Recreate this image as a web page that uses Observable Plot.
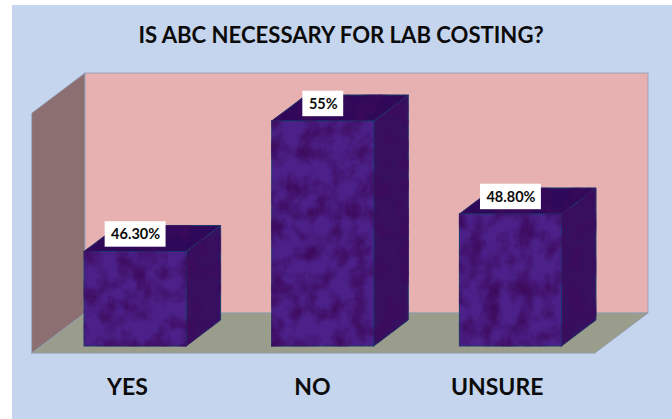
<!DOCTYPE html>
<html>
<head>
<meta charset="utf-8">
<script src="https://cdn.jsdelivr.net/npm/d3@7"></script>
<script src="https://cdn.jsdelivr.net/npm/@observablehq/plot@0.6"></script>
<style>
  html, body { margin: 0; padding: 0; background: #fff; }
  #panel { position: absolute; left: 12px; top: 5px; width: 660px; height: 414px; background: #c6d5ee; }
  #chart { position: absolute; left: 0; top: 0; }
  #chart svg { display: block; }
</style>
</head>
<body>
<div id="panel"></div>
<div id="chart"></div>
<script>
const chartTitle = "IS ABC NECESSARY FOR LAB COSTING?";
const categories = ["YES", "NO", "UNSURE"];
const values = [46.3, 55, 48.8];
const valueLabels = ["46.30%", "55%", "48.80%"];

// Value axis of the chart: truncated, with no visible ticks.
const yMin = 40;
const yMax = 56;

// Oblique projection: how far the back of the room shifts, in scale units.
const roomDepthX = 0.2824;
const roomDepthY = 2.667;
const barFrontDepth = 0.175;
const barBackDepth = 0.825;
const barHalfWidth = 0.272;

const xLeft = -0.5;
const xRight = categories.length - 0.5;
const shiftX = (d) => d * roomDepthX;
const shiftY = (d) => d * roomDepthY;

const bars = categories.map((category, i) => ({
  category,
  value: values[i],
  label: valueLabels[i],
  x0: i - barHalfWidth + shiftX(barFrontDepth),
  x1: i + barHalfWidth + shiftX(barFrontDepth),
  cx: i + shiftX(barFrontDepth),
  base: yMin + shiftY(barFrontDepth),
  top: values[i] + shiftY(barFrontDepth),
  i
}));

// Two-point ribbons that shear a face from the front of a bar to its back.
const sideFaces = bars.flatMap((b) => [barFrontDepth, barBackDepth].map((d) => ({
  i: b.i,
  x: b.x1 + shiftX(d - barFrontDepth),
  y1: yMin + shiftY(d),
  y2: b.value + shiftY(d)
})));
const topFaces = bars.flatMap((b) => [barFrontDepth, barBackDepth].map((d) => ({
  i: b.i,
  y: b.value + shiftY(d),
  x1: b.x0 + shiftX(d - barFrontDepth),
  x2: b.x1 + shiftX(d - barFrontDepth)
})));

const leftWall = [0, 1].map((d) => ({ x: xLeft + shiftX(d), y1: yMin + shiftY(d), y2: yMax + shiftY(d) }));
const floor = [0, 1].map((d) => ({ y: yMin + shiftY(d), x1: xLeft + shiftX(d), x2: xRight + shiftX(d) }));
const backWall = [{ x1: xLeft + shiftX(1), x2: xRight + shiftX(1), y1: yMin + shiftY(1), y2: yMax + shiftY(1) }];

// Label plates are sized from the length of the text they carry.
const plateHalfWidth = (s) => (0.111 + 0.0356 * s.length) / 2;
const plateHalfHeight = 0.85;
const plateOffset = 1.17;

const edge = "#1d3a6e";
const wallEdge = "#8f9bb2";

// Gives a mark's group the cloudy fabric finish defined below.
function mottled(index, scales, values, dimensions, context, next) {
  const g = next(index, scales, values, dimensions, context);
  g.setAttribute("filter", "url(#mottle)");
  return g;
}

const plot = Plot.plot({
  width: 672,
  height: 419,
  marginTop: 113,
  marginBottom: 66,
  marginLeft: 32,
  marginRight: 77,
  x: { domain: [xLeft, xRight], axis: null },
  y: { domain: [yMin, yMax], axis: null },
  style: { background: "transparent", fontFamily: "Lato, sans-serif", overflow: "visible" },
  marks: [
    Plot.areaY(leftWall, { x: "x", y1: "y1", y2: "y2", fill: "#8c7071", stroke: wallEdge, strokeWidth: 0.8 }),
    Plot.rect(backWall, { x1: "x1", x2: "x2", y1: "y1", y2: "y2", fill: "#e7b1b1", stroke: wallEdge, strokeWidth: 0.8 }),
    Plot.areaX(floor, { y: "y", x1: "x1", x2: "x2", fill: "#9b9d8c", stroke: wallEdge, strokeWidth: 0.8 }),

    Plot.areaY(sideFaces, { x: "x", y1: "y1", y2: "y2", z: "i", fill: "#371060", stroke: edge, strokeWidth: 1, render: mottled }),
    Plot.areaX(topFaces, { y: "y", x1: "x1", x2: "x2", z: "i", fill: "#2e0859", stroke: edge, strokeWidth: 1, render: mottled }),
    Plot.rect(bars, { x1: "x0", x2: "x1", y1: "base", y2: "top", fill: "#4b2088", stroke: edge, strokeWidth: 1, render: mottled }),

    Plot.rect(bars, {
      x1: (b) => b.cx - plateHalfWidth(b.label),
      x2: (b) => b.cx + plateHalfWidth(b.label),
      y1: (b) => b.top + plateOffset - plateHalfHeight,
      y2: (b) => b.top + plateOffset + plateHalfHeight,
      fill: "white"
    }),
    Plot.text(bars, {
      x: "cx",
      y: (b) => b.top + plateOffset,
      text: "label",
      fontSize: 14.5,
      fontWeight: 700,
      fill: "#0b0b0b"
    }),

    Plot.text(categories, {
      x: (d, i) => i * 0.985 + 0.006,
      y: () => yMin,
      dy: 34,
      text: (d) => d,
      fontSize: 23,
      fontWeight: 700,
      fill: "#0b0b0b"
    }),
    Plot.text([chartTitle], {
      frameAnchor: "top",
      lineAnchor: "middle",
      dx: 27,
      dy: -78,
      fontSize: 22.1,
      fontWeight: 700,
      fill: "#0b0b0b"
    })
  ]
});

// Cloudy fabric finish shared by the three bars: soft patches of darker plum.
const defs = d3.select(plot).insert("defs", ":first-child");
const filter = defs.append("filter")
  .attr("id", "mottle")
  .attr("filterUnits", "userSpaceOnUse")
  .attr("x", 0).attr("y", 0).attr("width", 672).attr("height", 419)
  .attr("color-interpolation-filters", "sRGB");
filter.append("feTurbulence")
  .attr("type", "fractalNoise").attr("baseFrequency", "0.06 0.05").attr("numOctaves", 4).attr("seed", 11)
  .attr("result", "noise");
filter.append("feColorMatrix").attr("in", "noise").attr("type", "matrix")
  .attr("values", "0 0 0 0 0.24  0 0 0 0 0.04  0 0 0 0 0.36  2.2 0 0 0 -0.85")
  .attr("result", "shade");
filter.append("feComposite").attr("in", "shade").attr("in2", "SourceAlpha").attr("operator", "in").attr("result", "clipped");
const merge = filter.append("feMerge");
merge.append("feMergeNode").attr("in", "SourceGraphic");
merge.append("feMergeNode").attr("in", "clipped");

document.getElementById("chart").append(plot);
</script>
</body>
</html>
